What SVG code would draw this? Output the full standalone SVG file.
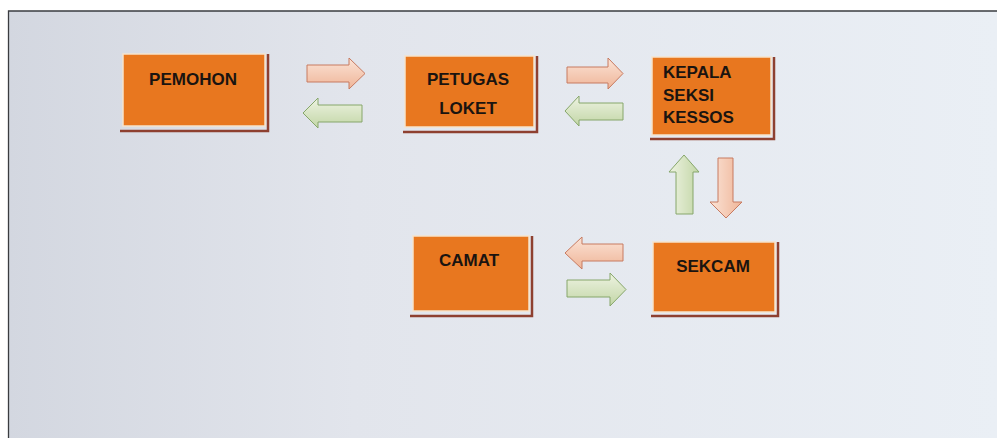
<svg xmlns="http://www.w3.org/2000/svg" width="997" height="440" viewBox="0 0 997 440">
  <defs>
    <linearGradient id="page" x1="0" y1="0" x2="1" y2="0">
      <stop offset="0" stop-color="#d3d7e0"/>
      <stop offset="0.35" stop-color="#e2e5ec"/>
      <stop offset="1" stop-color="#eaeff5"/>
    </linearGradient>
    <linearGradient id="pink" x1="0" y1="0" x2="0" y2="1">
      <stop offset="0" stop-color="#fbe3d6"/>
      <stop offset="1" stop-color="#efb598"/>
    </linearGradient>
    <linearGradient id="green" x1="0" y1="0" x2="0" y2="1">
      <stop offset="0" stop-color="#eef3e2"/>
      <stop offset="1" stop-color="#c2d6a6"/>
    </linearGradient>
    <linearGradient id="pinkV" x1="0" y1="0" x2="1" y2="0">
      <stop offset="0" stop-color="#fbe3d6"/>
      <stop offset="1" stop-color="#efb598"/>
    </linearGradient>
    <linearGradient id="greenV" x1="0" y1="0" x2="1" y2="0">
      <stop offset="0" stop-color="#eef3e2"/>
      <stop offset="1" stop-color="#c2d6a6"/>
    </linearGradient>
  </defs>
  <style>
    .box { fill: #e8771f; stroke: #f6e3cc; stroke-width: 1.5; }
    .shadow { fill: none; stroke: #8e4030; stroke-width: 2.5; }
    .lbl { font-family: "Liberation Sans", Arial, sans-serif; font-weight: bold; font-size: 17px; fill: #1a1410; }
    .ap { fill: url(#pink); stroke: #c77a60; stroke-width: 1; }
    .ag { fill: url(#green); stroke: #86a66a; stroke-width: 1; }
    .apv { fill: url(#pinkV); stroke: #c77a60; stroke-width: 1; }
    .agv { fill: url(#greenV); stroke: #86a66a; stroke-width: 1; }
  </style>

  <rect x="0" y="0" width="997" height="440" fill="#ffffff"/>
  <rect x="8" y="11" width="989" height="427" fill="url(#page)"/>
  <path d="M8.5 438 V11 H997" fill="none" stroke="#3a3c40" stroke-width="1.3"/>

  <g id="pemohon">
    <path class="shadow" d="M120 131 H268 V54"/>
    <rect class="box" x="123" y="54" width="142" height="72"/>
    <text class="lbl" x="193" y="85" text-anchor="middle">PEMOHON</text>
  </g>

  <g id="petugas-loket">
    <path class="shadow" d="M403 132 H537 V56"/>
    <rect class="box" x="405" y="56" width="129" height="71"/>
    <text class="lbl" x="468" y="85" text-anchor="middle">PETUGAS</text>
    <text class="lbl" x="468" y="114" text-anchor="middle">LOKET</text>
  </g>

  <g id="kepala-seksi-kessos">
    <path class="shadow" d="M650 139 H774 V57"/>
    <rect class="box" x="652" y="57" width="119" height="78"/>
    <text class="lbl" x="663" y="78">KEPALA</text>
    <text class="lbl" x="663" y="101">SEKSI</text>
    <text class="lbl" x="663" y="123">KESSOS</text>
  </g>

  <g id="camat">
    <path class="shadow" d="M410 316 H532 V236"/>
    <rect class="box" x="413" y="236" width="116" height="75"/>
    <text class="lbl" x="469" y="266" text-anchor="middle">CAMAT</text>
  </g>

  <g id="sekcam">
    <path class="shadow" d="M651 316 H778 V242"/>
    <rect class="box" x="653" y="242" width="122" height="70"/>
    <text class="lbl" x="713" y="272" text-anchor="middle">SEKCAM</text>
  </g>

  <g id="connectors">
    <path class="ap" d="M307 65 H349 V58 L365 73.5 L349 89 V82 H307 Z"/>
    <path class="ag" d="M362 105 H318 V98 L303 113 L318 128 V122 H362 Z"/>
    <path class="ap" d="M567 67 H608 V58 L623 73.5 L608 89 V83 H567 Z"/>
    <path class="ag" d="M623 103 H579 V96 L565 111 L579 126 V120 H623 Z"/>
    <path class="agv" d="M676 214 V172 H669 L684 155 L699 172 H693 V214 Z"/>
    <path class="apv" d="M718 158 V202 H710 L726 218 L742 202 H733 V158 Z"/>
    <path class="ap" d="M623 244 H582 V237 L565 253 L582 269 V261 H623 Z"/>
    <path class="ag" d="M567 280 H610 V273 L626 289.5 L610 306 V297 H567 Z"/>
  </g>
</svg>
